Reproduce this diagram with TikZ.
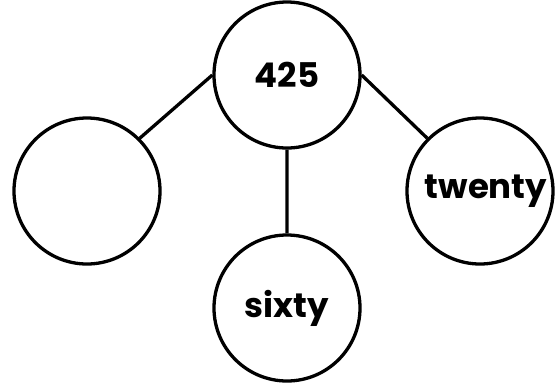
\documentclass[tikz,border=0pt]{standalone}
\usepackage{fontspec}
\setmainfont{Poppins}
\tikzset{ball/.style={circle,draw,line width=3.3pt,minimum size=146pt,inner sep=0pt,
  font=\bfseries\fontsize{34}{34}\selectfont},
  stick/.style={line width=3.3pt}}
\begin{document}
\begin{tikzpicture}[x=1pt,y=-1pt]
\useasboundingbox (0,0) rectangle (558,384);
\node[ball] (top) at (287,75) {425};
\node[ball] (left) at (87,191) {};
\node[ball] (mid) at (287,308) {sixty};
\node[ball] (right) at (480,191) {\hspace*{12pt}twenty};
%\draw (top) -- (left);
\draw[stick] (top.west) -- (left.north east)
 (top.south) -- (mid.north)
 (top.east) -- (right.north west);
\end{tikzpicture}
\end{document}
